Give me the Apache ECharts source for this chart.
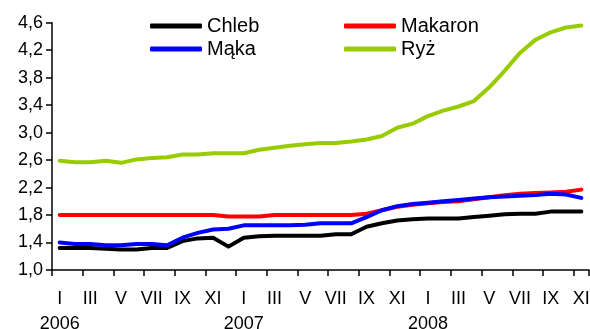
<!DOCTYPE html>
<html>
<head>
<meta charset="utf-8">
<script src="https://cdn.jsdelivr.net/npm/echarts@6/dist/echarts.min.js"></script>
<style>
  html, body { margin: 0; padding: 0; background: #fff; }
  #chart { width: 590px; height: 329px; }
</style>
</head>
<body>
<div id="chart"></div>
<script>
// Months I 2006 .. XI 2008
const romanMonths = ['I','II','III','IV','V','VI','VII','VIII','IX','X','XI','XII'];
const years = [2006, 2007, 2008];
const monthCount = 35;

// Prices (zł/kg)
const chleb = [1.32,1.32,1.32,1.31,1.30,1.30,1.32,1.32,1.42,1.46,1.47,1.34,
               1.47,1.49,1.50,1.50,1.50,1.50,1.52,1.52,1.63,1.68,1.72,1.74,
               1.75,1.75,1.75,1.77,1.79,1.81,1.82,1.82,1.85,1.85,1.85];
const makaron = [1.80,1.80,1.80,1.80,1.80,1.80,1.80,1.80,1.80,1.80,1.80,1.78,
                 1.78,1.78,1.80,1.80,1.80,1.80,1.80,1.80,1.82,1.87,1.92,1.95,
                 1.97,1.99,2.00,2.03,2.06,2.09,2.11,2.12,2.13,2.14,2.17];
const maka = [1.40,1.38,1.38,1.36,1.36,1.38,1.38,1.36,1.47,1.54,1.59,1.60,
              1.65,1.65,1.65,1.65,1.66,1.68,1.68,1.68,1.77,1.87,1.93,1.96,
              1.98,2.00,2.02,2.04,2.06,2.07,2.08,2.09,2.11,2.10,2.05];
const ryz = [2.59,2.57,2.57,2.59,2.56,2.61,2.63,2.64,2.68,2.68,2.70,2.70,
             2.70,2.75,2.78,2.81,2.83,2.85,2.85,2.87,2.90,2.95,3.07,3.13,
             3.24,3.32,3.38,3.46,3.66,3.90,4.16,4.35,4.46,4.53,4.56];

const yMin = 1.0, yMax = 4.6, yStep = 0.4;

const categories = [];
for (let i = 0; i < monthCount; i++) {
  categories.push(years[Math.floor(i / 12)] + '-' + (i % 12 + 1));
}

const font = '"Liberation Sans", Arial, sans-serif';
const chart = echarts.init(document.getElementById('chart'));

function lineSeries(name, data, color) {
  return {
    name: name,
    type: 'line',
    data: data,
    showSymbol: false,
    symbol: 'none',
    color: color,
    lineStyle: { width: 4, color: color, cap: 'round', join: 'round' },
    emphasis: { disabled: true },
    animation: false
  };
}

const legendBase = {
  orient: 'vertical',
  top: 16,
  padding: 0,
  itemWidth: 52,
  itemHeight: 5,
  itemGap: 3,
  icon: 'roundRect',
  textStyle: { fontFamily: font, fontSize: 20, color: '#000', lineHeight: 20 },
  selectedMode: false
};

chart.setOption({
  backgroundColor: '#fff',
  animation: false,
  grid: { left: 52, right: 1, top: 22.7, bottom: 59, outerBoundsMode: 'none' },
  legend: [
    Object.assign({}, legendBase, { left: 150, data: ['Chleb', 'Mąka'] }),
    Object.assign({}, legendBase, { left: 344, data: ['Makaron', 'Ryż'] })
  ],
  xAxis: {
    type: 'category',
    data: categories,
    boundaryGap: true,
    axisLine: { lineStyle: { color: '#000', width: 1.5 } },
    axisTick: { show: true, interval: 1, length: 6, lineStyle: { color: '#000', width: 1.5 } },
    axisLabel: {
      interval: 1,
      margin: 17,
      fontFamily: font,
      fontSize: 18,
      color: '#000',
      lineHeight: 25,
      formatter: function (value, index) {
        const m = romanMonths[index % 12];
        return index % 12 === 0 ? m + '\n' + years[Math.floor(index / 12)] : m;
      }
    },
    splitLine: { show: false }
  },
  yAxis: {
    type: 'value',
    min: yMin,
    max: yMax,
    interval: yStep,
    axisLine: { show: true, lineStyle: { color: '#000', width: 1.5 } },
    axisTick: { show: true, length: 6, lineStyle: { color: '#000', width: 1.5 } },
    axisLabel: {
      margin: 9,
      fontFamily: font,
      fontSize: 18,
      color: '#000',
      formatter: function (v) { return v.toFixed(1).replace('.', ','); }
    },
    splitLine: { show: false }
  },
  series: [
    lineSeries('Chleb', chleb, '#000000'),
    lineSeries('Makaron', makaron, '#ff0000'),
    lineSeries('Mąka', maka, '#0000ff'),
    lineSeries('Ryż', ryz, '#99cc00')
  ]
});
</script>
</body>
</html>
